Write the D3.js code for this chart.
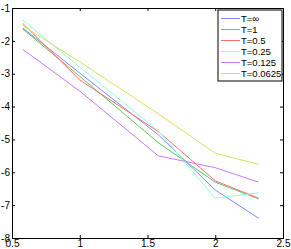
<!DOCTYPE html>
<html>
<head>
<meta charset="utf-8">
<script src="https://cdn.jsdelivr.net/npm/d3@7"></script>
<style>
body{margin:0;background:#fff;}
text{font-family:"Liberation Sans",Arial,sans-serif;}
</style>
</head>
<body>
<svg class="graph"></svg>
<script>
let xvals=[0.58,1,1.58,2,2.32]
let names=['T=\u221e','T=1','T=0.5','T=0.25','T=0.125','T=0.0625']
let colors=['#7b8bff','#5cc85c','#ff6e6e','#8effdf','#c67dff','#d6e25c']
let tInf=[-1.61,-2.98,-4.86,-6.54,-7.40]
let t1=[-1.64,-3.08,-5.10,-6.30,-6.81]
let t05=[-1.47,-3.19,-4.76,-6.26,-6.79]
let t025=[-1.37,-2.80,-4.74,-6.79,-6.62]
let t0125=[-2.26,-3.53,-5.50,-5.86,-6.30]
let t00625=[-1.54,-2.64,-4.22,-5.42,-5.76]
let xticks=[0.5,1,1.5,2,2.5]
let yticks=[-8,-7,-6,-5,-4,-3,-2,-1]

let margin={top:8,left:12,right:8,bottom:11}
let W=291,H=249
let width=W-margin.left-margin.right
let height=H-margin.top-margin.bottom
let svg=d3.select('.graph').attr('width',W).attr('height',H)
let g=svg.append('g').attr('transform',`translate(${margin.left},${margin.top})`)

let xscale=d3.scaleLinear().domain([0.5,2.5]).range([0,width])
let yscale=d3.scaleLinear().domain([-8,-1]).range([height,0])

let series=[tInf,t1,t05,t025,t0125,t00625].map((v,i)=>({name:names[i],color:colors[i],values:v}))

let line=d3.line().x((d,i)=>xscale(xvals[i])).y(d=>yscale(d))

g.selectAll('.ser')
 .data(series)
 .join('path')
 .attr('class','ser')
 .attr('d',d=>line(d.values))
 .attr('stroke',d=>d.color)
 .attr('fill','none')
 .style('stroke-width',1)

// axes (matlab style box, ticks inward)
let fmt=d=>String(d).replace('\u2212','-')
let xb=g.append('g').attr('transform',`translate(0,${height})`)
 .call(d3.axisBottom(xscale).tickValues(xticks).tickSize(-3).tickPadding(2).tickFormat(fmt))
let xt=g.append('g')
 .call(d3.axisTop(xscale).tickValues(xticks).tickSize(-3).tickFormat(''))
let yl=g.append('g')
 .call(d3.axisLeft(yscale).tickValues(yticks).tickSize(-3).tickPadding(2).tickFormat(fmt))
let yr=g.append('g').attr('transform',`translate(${width},0)`)
 .call(d3.axisRight(yscale).tickValues(yticks).tickSize(-3).tickFormat(''))

;[xb,xt,yl,yr].forEach(a=>{
  a.selectAll('.domain').attr('stroke','#000').attr('stroke-width',1)
  a.selectAll('line').attr('stroke','#000')
  a.selectAll('text').style('font-size','10px').attr('fill','#000')
})

// legend
let lg=g.append('g').attr('transform',`translate(${206},${2})`)
lg.append('rect').attr('x',0).attr('y',0).attr('width',64).attr('height',71)
  .attr('fill','#fff').attr('stroke','#000').attr('stroke-width',1)
series.forEach((s,i)=>{
  let yy=8.5+i*11
  lg.append('line').attr('x1',3).attr('x2',22).attr('y1',yy).attr('y2',yy).attr('stroke',s.color)
  lg.append('text').attr('x',23).attr('y',yy).attr('dy','0.35em').text(s.name)
    .style('font-size','9.5px').attr('fill','#000')
})
</script>
</body>
</html>
